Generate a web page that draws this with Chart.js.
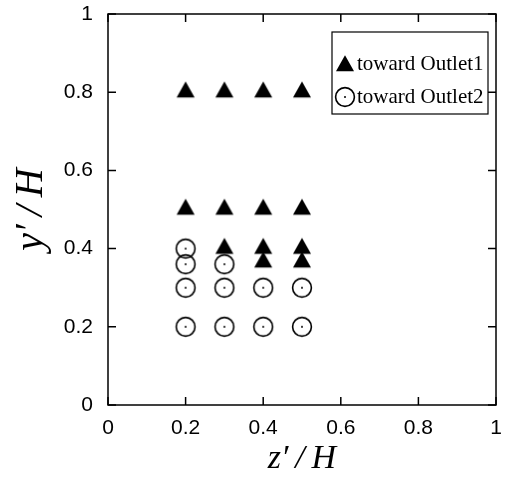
<!DOCTYPE html>
<html>
<head>
<meta charset="utf-8">
<script src="https://cdn.jsdelivr.net/npm/chart.js@4"></script>
<style>
  html, body { margin: 0; background: #fff; }
  #wrap { width: 507px; height: 482px; }
</style>
</head>
<body>
<div id="wrap"><canvas id="scatter"></canvas></div>
<script>
// values
const outlet1X = [0.2, 0.3, 0.4, 0.5, 0.2, 0.3, 0.4, 0.5, 0.3, 0.4, 0.5, 0.4, 0.5];
const outlet1Y = [0.8, 0.8, 0.8, 0.8, 0.5, 0.5, 0.5, 0.5, 0.4, 0.4, 0.4, 0.365, 0.365];
const outlet2X = [0.2, 0.2, 0.3, 0.2, 0.3, 0.4, 0.5, 0.2, 0.3, 0.4, 0.5];
const outlet2Y = [0.4, 0.36, 0.36, 0.3, 0.3, 0.3, 0.3, 0.2, 0.2, 0.2, 0.2];
const seriesNames = ['toward Outlet1', 'toward Outlet2'];
const tickLabels = ['0', '0.2', '0.4', '0.6', '0.8', '1'];

// open circle with a dot in the middle
function circleDot() {
  const c = document.createElement('canvas');
  c.width = 24; c.height = 24;
  const g = c.getContext('2d');
  g.strokeStyle = '#000';
  g.lineWidth = 1.6;
  g.beginPath();
  g.arc(12, 12, 9.4, 0, Math.PI * 2);
  g.stroke();
  g.fillStyle = '#000';
  g.beginPath();
  g.arc(12, 12, 1, 0, Math.PI * 2);
  g.fill();
  return c;
}
// filled triangle, centroid in the middle
function triangle() {
  const c = document.createElement('canvas');
  c.width = 24; c.height = 24;
  const g = c.getContext('2d');
  g.fillStyle = '#000';
  g.beginPath();
  g.moveTo(12, 12 - 10.7);
  g.lineTo(21, 12 + 5.3);
  g.lineTo(3, 12 + 5.3);
  g.closePath();
  g.fill();
  return c;
}
const circleImg = circleDot();
const triImg = triangle();

function toPoints(xs, ys) {
  return xs.map((v, i) => ({ x: v, y: ys[i] }));
}

const framePlugin = {
  id: 'frame',
  afterDraw(chart) {
    const { ctx, chartArea: a, scales: { x, y } } = chart;
    ctx.save();
    ctx.strokeStyle = '#000';
    ctx.lineWidth = 1.5;
    ctx.strokeRect(a.left, a.top, a.right - a.left, a.bottom - a.top);
    const len = 8;
    ctx.beginPath();
    x.ticks.forEach(t => {
      const px = x.getPixelForValue(t.value);
      ctx.moveTo(px, a.bottom); ctx.lineTo(px, a.bottom - len);
      ctx.moveTo(px, a.top); ctx.lineTo(px, a.top + len);
    });
    y.ticks.forEach(t => {
      const py = y.getPixelForValue(t.value);
      ctx.moveTo(a.left, py); ctx.lineTo(a.left + len, py);
      ctx.moveTo(a.right, py); ctx.lineTo(a.right - len, py);
    });
    ctx.stroke();

    // legend box
    const bx = 332, by = 32, bw = 156, bh = 82;
    ctx.fillStyle = '#fff';
    ctx.fillRect(bx, by, bw, bh);
    ctx.lineWidth = 1.2;
    ctx.strokeRect(bx, by, bw, bh);
    ctx.fillStyle = '#000';
    ctx.drawImage(triImg, 345 - 12, 66 - 12);
    ctx.drawImage(circleImg, 345 - 12, 97 - 12);
    ctx.font = '21px "Liberation Serif"';
    ctx.textBaseline = 'middle';
    ctx.fillText(seriesNames[0], 357, 64);
    ctx.fillText(seriesNames[1], 357, 97);
    ctx.restore();
  }
};

const ctx = document.getElementById('scatter');
new Chart(ctx, {
  type: 'scatter',
  data: {
    datasets: [{
      label: seriesNames[0],
      data: toPoints(outlet1X, outlet1Y),
      pointStyle: triImg,
      pointRadius: 10
    }, {
      label: seriesNames[1],
      data: toPoints(outlet2X, outlet2Y),
      pointStyle: circleImg,
      pointRadius: 10
    }]
  },
  options: {
    animation: false,
    responsive: true,
    maintainAspectRatio: false,
    layout: { padding: 0 },
    plugins: { legend: { display: false }, tooltip: { enabled: false } },
    scales: {
      x: {
        min: 0, max: 1,
        grid: { display: false, drawTicks: false },
        border: { display: false },
        ticks: {
          stepSize: 0.2, padding: 11, color: '#000',
          font: { family: '"Liberation Sans"', size: 21 },
          callback: (v, i) => tickLabels[i]
        },
        title: {
          display: true, text: 'z\u2032\u2009/\u2009H', color: '#000',
          font: { family: '"Liberation Serif"', style: 'italic', size: 34 },
          padding: { top: 3, bottom: 3 }
        },
        afterFit(s) { s.height = 77; s.paddingLeft = 0; s.paddingRight = 8; }
      },
      y: {
        min: 0, max: 1,
        grid: { display: false, drawTicks: false },
        border: { display: false },
        ticks: {
          stepSize: 0.2, padding: 15, color: '#000',
          font: { family: '"Liberation Sans"', size: 21 },
          callback: (v, i) => tickLabels[i]
        },
        title: {
          display: true, text: 'y\u2032\u2009/\u2009H', color: '#000',
          font: { family: '"Liberation Serif"', style: 'italic', size: 40 },
          padding: { top: 7, bottom: 7 }
        },
        afterFit(s) { s.width = 108; s.paddingTop = 14; s.paddingBottom = 0; }
      }
    }
  },
  plugins: [framePlugin]
});
</script>
</body>
</html>
